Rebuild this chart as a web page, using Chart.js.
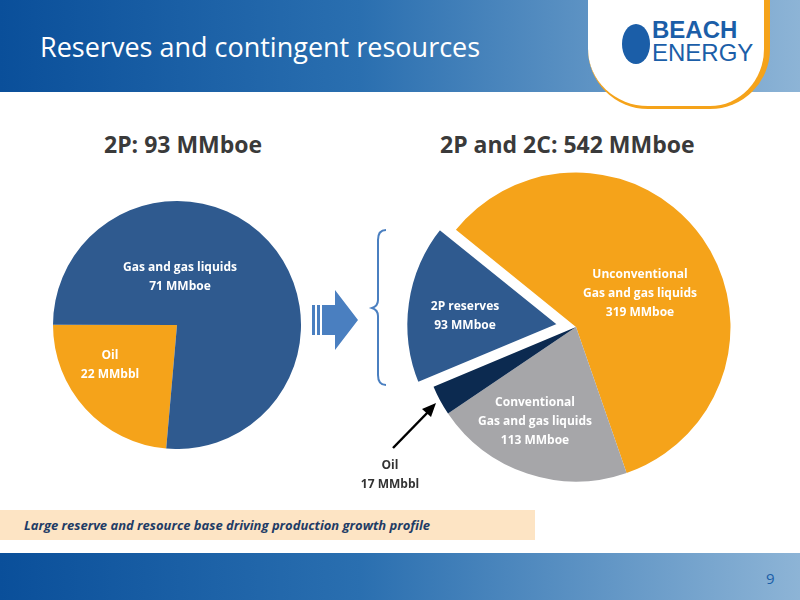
<!DOCTYPE html>
<html><head><meta charset="utf-8">
<script src="https://cdn.jsdelivr.net/npm/chart.js@4/dist/chart.umd.min.js"></script>
<style>
body{margin:0;width:800px;height:600px;position:relative;overflow:hidden;background:#fff;font-family:"Open Sans",sans-serif}
.abs{position:absolute}
canvas{z-index:1}
.lbl{position:absolute;z-index:3;color:#fff;font-weight:bold;font-size:12px;text-align:center;line-height:19px;font-family:"Open Sans",sans-serif}
</style></head><body>
<div class="abs" style="left:0;top:0;width:800px;height:92px;background:linear-gradient(90deg,#0a4f9a 0%,#2a6fb0 45%,#8db4d6 100%)"></div>
<div class="abs" style="left:40px;top:28px;color:#fff;font-size:27px">Reserves and contingent resources</div>
<div class="abs" style="left:588px;top:-40px;width:176px;height:146px;background:#fff;border-radius:0 0 60px 60px;border-right:6px solid #f5a31a;border-bottom:3px solid #f5a31a"></div>
<div class="abs" style="left:622px;top:24px;width:28px;height:40px;border-radius:50%;background:#1b5ea8"></div>
<div class="abs" style="left:652px;top:18px;color:#1b5ea8;font-weight:bold;font-size:24px;line-height:23px;font-family:'Liberation Sans Narrow',Arial,sans-serif">BEACH<br><span style="font-weight:normal">ENERGY</span></div>
<div class="abs" style="left:0;top:553px;width:800px;height:47px;background:linear-gradient(90deg,#0a4f9a 0%,#2a6fb0 45%,#8db4d6 100%)"></div>
<div class="abs" style="left:766px;top:568px;color:#1b5ea8;font-size:15px">9</div>
<div class="abs" style="left:0;top:510px;width:535px;height:30px;background:#fde4c4"></div>
<div class="abs" style="left:24px;top:516px;color:#1f3c66;font-size:13px;font-weight:bold;font-style:italic">Large reserve and resource base driving production growth profile</div>
<div class="abs" style="left:104px;top:128px;color:#3a3a3a;font-size:23px;font-weight:bold">2P: 93 MMboe</div>
<div class="abs" style="left:440px;top:128px;color:#3a3a3a;font-size:23px;font-weight:bold">2P and 2C: 542 MMboe</div>
<canvas id="c1" class="abs" style="left:53px;top:201px;width:248px;height:248px"></canvas>
<canvas id="c2" class="abs" style="left:389px;top:140px;width:374px;height:374px"></canvas>
<div class="lbl" style="left:100px;top:257px;width:160px">Gas and gas liquids<br>71 MMboe</div>
<div class="lbl" style="left:60px;top:345px;width:100px">Oil<br>22 MMbbl</div>
<div class="lbl" style="left:560px;top:264px;width:160px">Unconventional<br>Gas and gas liquids<br>319 MMboe</div>
<div class="lbl" style="left:405px;top:296px;width:120px">2P reserves<br>93 MMboe</div>
<div class="lbl" style="left:460px;top:392px;width:150px">Conventional<br>Gas and gas liquids<br>113 MMboe</div>
<div class="lbl" style="left:340px;top:455px;width:100px;color:#333">Oil<br>17 MMbbl</div>
<svg class="abs" style="left:0;top:0;z-index:2" width="800" height="600">
<polygon points="312,305 335,305 335,290 358,320 335,350 335,335 312,335" fill="#4a7fc0"/>
<line x1="316" y1="305" x2="316" y2="335" stroke="#fff" stroke-width="2"/>
<line x1="321" y1="305" x2="321" y2="335" stroke="#fff" stroke-width="2"/>
<path d="M386,230 Q378,230 378,240 L378,300 Q378,306 372,308 Q378,310 378,316 L378,375 Q378,385 386,385" fill="none" stroke="#4a7fc0" stroke-width="2"/>
<line x1="393" y1="448" x2="430" y2="410" stroke="#000" stroke-width="2.5"/>
<polygon points="436,403 422,409 431,417" fill="#000"/>
</svg>
<script>
const leftLabels=["Oil","Gas and gas liquids"];
const leftValues=[22,71];
const rightLabels=["Unconventional gas and gas liquids","Conventional gas and gas liquids","Oil","2P reserves"];
const rightValues=[319,113,17,93];
const base={responsive:false,animation:false,plugins:{legend:{display:false},tooltip:{enabled:false}},layout:{padding:0}};
function mk(id,size,data,colors,rot,offset,border){
 const c=document.getElementById(id);c.width=size;c.height=size;
 new Chart(c,{type:'pie',data:{labels:data.l,datasets:[{data:data.v,backgroundColor:colors,borderColor:'#fff',borderWidth:border,offset:offset}]},
 options:Object.assign({},base,{rotation:rot})});
}
mk('c1',248,{l:leftLabels,v:leftValues},['#f5a31a','#2f5a8f'],185,0,0);
mk('c2',374,{l:rightLabels,v:rightValues},['#f5a31a','#a6a6a9','#0c2a50','#2f5a8f'],-51,[0,0,0,60],[0,0,0,5]);
</script>
</body></html>
